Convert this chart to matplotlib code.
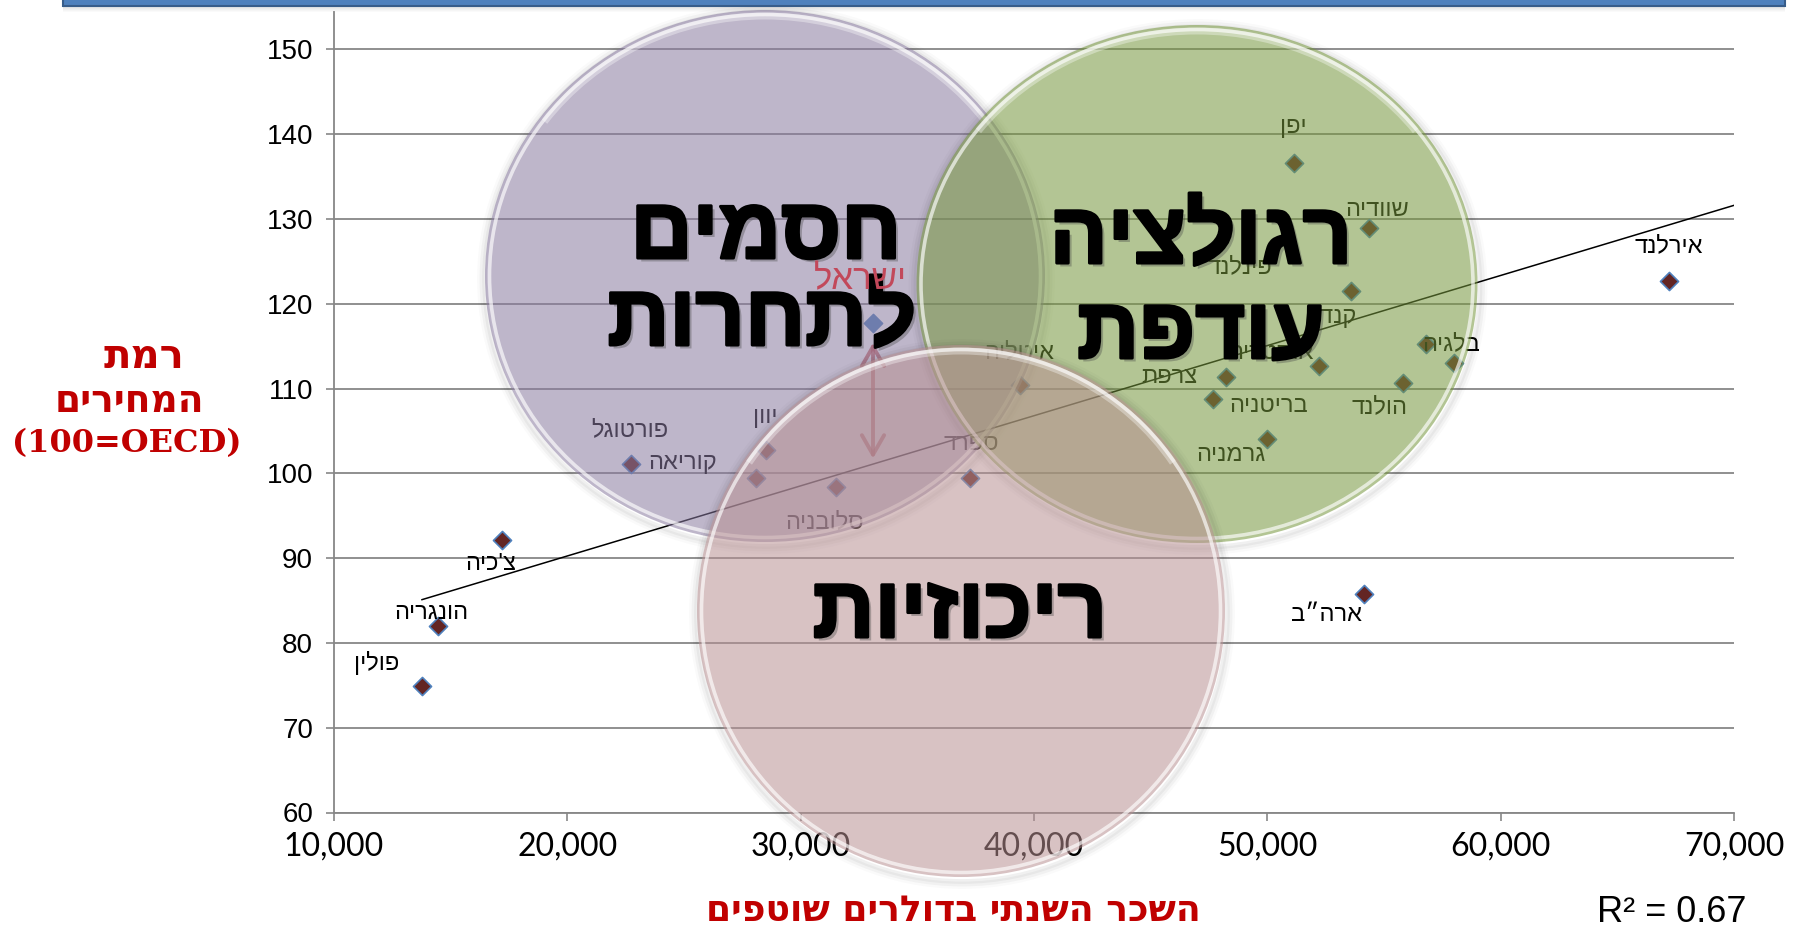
import numpy as np
import matplotlib
matplotlib.use("Agg")
import matplotlib.pyplot as plt
import matplotlib.patheffects as pe
from matplotlib.patches import Ellipse, Rectangle, Arc
from matplotlib.transforms import Affine2D

W, H = 1797, 927

countries = ["פולין", "הונגריה", "צ'כיה", "קוריאה", "פורטוגל", "יוון", "סלובניה",
             "ישראל", "ספרד", "איטליה", "יפן", "שוודיה", "פינלנד", "אוסטריה",
             "צרפת", "בריטניה", "גרמניה", "הולנד", "קנדה", "בלגיה", "ארה״ב", "אירלנד"]
wage = [13770, 14450, 17190, 22720, 28100, 28530, 31500,
        33100, 37270, 39380, 51130, 54340, 53590, 52200,
        48230, 47670, 49990, 55800, 56780, 57980, 54160, 67200]
price = [74.9, 82.0, 92.1, 101.1, 99.5, 102.7, 98.4,
         117.7, 99.4, 110.4, 136.6, 128.9, 121.5, 112.6,
         111.3, 108.8, 104.1, 110.6, 115.2, 113.0, 85.8, 122.7]
highlight = "ישראל"

trend_wage = [13770, 70000]
trend_price = [85.1, 131.6]
r_squared = 0.67

x_ticks = [10000, 20000, 30000, 40000, 50000, 60000, 70000]
y_ticks = [60, 70, 80, 90, 100, 110, 120, 130, 140, 150]

x_title = "השכר השנתי בדולרים שוטפים"
y_title = ["רמת", "המחירים", "(100=OECD)"]
bubble_text = [["חסמים", "לתחרות"], ["רגולציה", "עודפת"], ["ריכוזיות"]]

# label offsets in points, same order as countries
label_off = [(-33, 17), (-5, 9), (-8, -17), (37, 1), (-91, 34), (-1, 24), (-8, -25),
             (-11, 31), (1, 25), (0, 24), (0, 26), (6, 13), (-80, 17), (-34, 10),
             (-41, 0), (40, -5), (-26, -12), (-17, -17), (-68, 20), (-2, 14),
             (-27, -15), (0, 25)]

# bubbles in pixel layout: centre, width, height, colour
bubbles = [((765, 276), 560, 532, "#897AA0"),
           ((1197, 284), 561, 518, "#75963C"),
           ((961, 611), 528, 532, "#B89092")]
bubble_lines = [[(766, 258), (762, 345)], [(1201, 263), (1201, 358)], [(960, 637)]]

# y title lines: x centre, baseline, size (pixels / points)
y_title_pos = [(144, 368, 29), (129, 412, 27), (127, 452, 23)]

SANS = ["Liberation Sans", "DejaVu Sans"]
BOLD_HEB = ["DejaVu Sans"]
DARK_RED = "#C00000"


def rtl(s):
    # matplotlib has no bidi, flip Hebrew by hand
    if any("\u0590" <= c <= "\u05ff" for c in s):
        return s[::-1]
    return s


fig = plt.figure(figsize=(W / 100, H / 100), dpi=100)
px = Affine2D().scale(1, -1).translate(0, H)

ax = fig.add_axes([334 / W, 1 - 812.5 / H, 1400 / W, 800.5 / H])
ax.set_xlim(10000, 70000)
ax.set_ylim(60, 154.4)
ax.set_xticks(x_ticks)
ax.set_yticks(y_ticks)
ax.set_xticklabels([f"{v:,}" for v in x_ticks], fontfamily="Lato", fontsize=23)
ax.set_yticklabels([str(v) for v in y_ticks], fontfamily="Liberation Sans", fontsize=20)
ax.grid(axis="y", color="#878787", lw=1.3)
ax.set_axisbelow(True)
for s in ["top", "right"]:
    ax.spines[s].set_visible(False)
for s in ["left", "bottom"]:
    ax.spines[s].set_color("#878787")
    ax.spines[s].set_linewidth(1.3)
ax.tick_params(axis="y", length=6, width=1.2, color="#878787", pad=9)
ax.tick_params(axis="x", length=6, width=1.2, color="#878787", pad=8)

wage_a = np.array(wage)
price_a = np.array(price)
is_hl = np.array([c == highlight for c in countries])

ax.plot(trend_wage, trend_price, color="black", lw=1.1, zorder=2)
ax.scatter(wage_a[~is_hl], price_a[~is_hl], marker="D", s=85, c="#632523",
           edgecolors="#4F81BD", linewidths=1.2, zorder=3)
ax.scatter(wage_a[is_hl], price_a[is_hl], marker="D", s=85, c="#4F81BD",
           edgecolors="#4F81BD", linewidths=1.2, zorder=3)

for name, x, y, off in zip(countries, wage, price, label_off):
    if name == highlight:
        continue
    ax.annotate(rtl(name), (x, y), xytext=off, textcoords="offset points",
                ha="center", va="center", fontsize=17, family=SANS, color="black",
                zorder=4)

# arrow from Israel down to the trend line
hx = wage_a[is_hl][0]
hy = price_a[is_hl][0]
ty = np.interp(hx, trend_wage, trend_price)
ax.annotate("", xy=(hx, ty), xytext=(hx, hy),
            arrowprops=dict(arrowstyle="<->,head_length=0.7,head_width=0.4",
                            color="#C0504D", lw=2.8, alpha=0.75,
                            shrinkA=14, shrinkB=4, mutation_scale=20),
            zorder=3)

# bubbles on top of the chart
for i, ((cx, cy), bw, bh, col) in enumerate(bubbles):
    z = 5 + i
    for grow, a in [(3, 0.06), (8, 0.035), (13, 0.018)]:
        fig.add_artist(Ellipse((cx + 1, cy + 3), bw + grow, bh + grow, transform=px,
                               fill=False, edgecolor="black", lw=3.5, alpha=a,
                               zorder=z))
    fig.add_artist(Ellipse((cx, cy), bw, bh, transform=px, facecolor=col,
                           edgecolor="none", alpha=0.55, zorder=z))
    fig.add_artist(Ellipse((cx, cy), bw - 9, bh - 9, transform=px, fill=False,
                           edgecolor="white", lw=2.6, alpha=0.65, zorder=z))
    fig.add_artist(Arc((cx, cy), bw - 12, bh - 12, theta1=215, theta2=325,
                       transform=px, edgecolor="white", lw=5, alpha=0.35, zorder=z))

for words, spots in zip(bubble_text, bubble_lines):
    for w, (tx, ty_) in zip(words, spots):
        fig.text(tx, ty_, rtl(w), transform=px, ha="center", va="baseline",
                 fontsize=62, fontweight="bold", family=SANS, color="black",
                 zorder=10,
                 path_effects=[pe.withSimplePatchShadow(offset=(2.5, -2.5),
                                                        shadow_rgbFace="#444444",
                                                        alpha=0.35),
                               pe.withStroke(linewidth=2.2, foreground="black")])

# Israel label sits over the bubble
fig.text(hx, hy, rtl(highlight),
         transform=ax.transData + Affine2D().translate(-13, 43),
         ha="center", va="center", fontsize=25, family=SANS, color="#C2485A",
         zorder=11)

# axis titles
for line, (tx, ty_, fs) in zip(y_title, y_title_pos):
    fig.text(tx, ty_, rtl(line), transform=px, ha="center", va="baseline",
             fontsize=fs, fontweight="bold", family=["DejaVu Serif", "DejaVu Sans"],
             color=DARK_RED)
fig.text(953, 921, rtl(x_title), transform=px, ha="center", va="baseline",
         fontsize=26, fontweight="bold", family=BOLD_HEB, color=DARK_RED)
fig.text(1672, 922, f"R² = {r_squared:.2f}", transform=px, ha="center",
         va="baseline", fontsize=26, family="Liberation Sans", color="black")

# blue title bar at the top edge
for k in range(6):
    fig.add_artist(Rectangle((63, 6 + k), 1722, 1.2, transform=px,
                             facecolor="black", edgecolor="none",
                             alpha=0.12 * (1 - k / 6), zorder=12))
fig.add_artist(Rectangle((63, -2), 1722, 8, transform=px, facecolor="#4F81BD",
                         edgecolor="#385D8A", lw=1.5, zorder=13))

fig.savefig("out.png", dpi=100)
